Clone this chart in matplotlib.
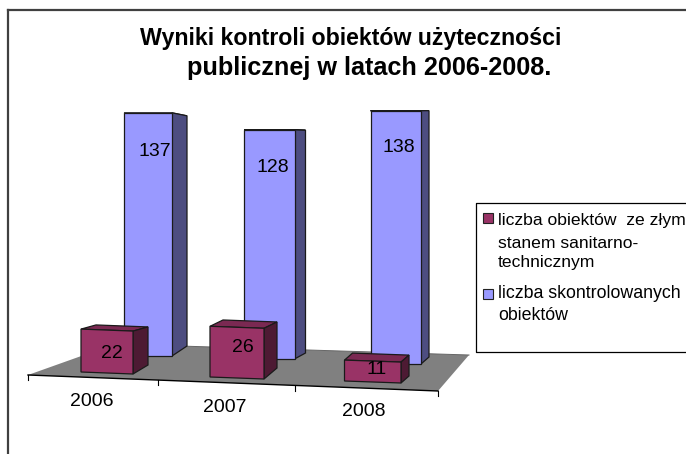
import matplotlib
matplotlib.use('Agg')
from matplotlib import pyplot as plt
from matplotlib.patches import Polygon, Rectangle

plt.rcParams['font.family'] = ['Liberation Sans', 'DejaVu Sans']

years = ['2006', '2007', '2008']
checked = [137, 128, 138]
bad_state = [22, 26, 11]
legend_bad = ['liczba obiektów  ze złym', 'stanem sanitarno-', 'technicznym']
legend_checked = ['liczba skontrolowanych', 'obiektów']
title_lines = ['Wyniki kontroli obiektów użyteczności', 'publicznej w latach 2006-2008.']

fig = plt.figure(figsize=(6.86, 4.54), dpi=100)
ax = fig.add_axes([0, 0, 1, 1])
ax.set_xlim(0, 686)
ax.set_ylim(454, 0)
ax.axis('off')


def box(val, fl, fr, depth, sc, sc_back, cols):
    # fake 3d bar, front face + side + top, heights come from val
    h = val * sc
    h2 = val * sc_back
    bl = (fl[0] + depth[0], fl[1] + depth[1])
    br = (fr[0] + depth[0], fr[1] + depth[1])
    top = [(fl[0], fl[1] - h), (fr[0], fr[1] - h), (br[0], br[1] - h2), (bl[0], bl[1] - h2)]
    side = [fr, br, (br[0], br[1] - h2), (fr[0], fr[1] - h)]
    front = [fl, fr, (fr[0], fr[1] - h), (fl[0], fl[1] - h)]
    for pts, c in zip([top, side, front], cols):
        ax.add_patch(Polygon(pts, closed=True, fc=c, ec='#1a1a1a', lw=0.9, zorder=3))


# frame
ax.plot([8, 8], [454, 10], color='#404040', lw=1.6, zorder=1)
ax.plot([8, 686], [10, 10], color='#404040', lw=1.6, zorder=1)

# floor
ax.add_patch(Polygon([(28, 375), (438, 391), (469, 355), (115, 344)], closed=True, fc='#808080', ec='none', zorder=1))
ax.plot([28, 438], [375, 391], color='black', lw=1, zorder=2)
ax.plot([115, 469], [344, 355], color='#666666', lw=0.7, zorder=2)
for tx, ty in [(28, 375), (157.5, 380), (295, 386), (438, 391)]:
    ax.plot([tx, tx], [ty, ty + 5], color='black', lw=0.8, zorder=2)

blue_cols = ['#7a7acc', '#4d4d80', '#9999ff']
red_cols = ['#7a2952', '#4d1a33', '#993366']

blue_geo = [
    ((124, 356), (172, 356), (15, -10), 1.775, 1.68),
    ((244, 359), (294.5, 359), (11, -6), 1.79, 1.74),
    ((370.5, 364), (421, 364), (8, -7), 1.835, 1.785),
]
red_geo = [
    ((81, 372), (133, 374), (15, -9), 1.95, 1.73),
    ((210, 377), (264, 379), (13, -11), 1.95, 1.77),
    ((344.5, 381), (401, 383), (8, -7), 1.9, 1.9),
]
for v, g in zip(checked, blue_geo):
    box(v, *g, blue_cols)
for v, g in zip(bad_state, red_geo):
    box(v, *g, red_cols)

# value labels
fs = 14
for v, (x, y) in zip(checked, [(155, 151), (273, 167), (399, 147)]):
    ax.text(x, y, str(v), fontsize=fs, ha='center', va='center', color='black', zorder=5)
for v, (x, y) in zip(bad_state, [(112, 353), (243, 348), (377, 369)]):
    ax.text(x, y, str(v), fontsize=fs, ha='center', va='center', color='black', zorder=5)
for lab, (x, y) in zip(years, [(92, 401), (225, 407), (364, 412)]):
    ax.text(x, y, lab, fontsize=fs, ha='center', va='center', color='black', zorder=5)

# title
ax.text(351, 39, title_lines[0], fontsize=16.7, fontweight='bold', ha='center', va='center')
ax.text(369.5, 68, title_lines[1], fontsize=18.2, fontweight='bold', ha='center', va='center')

# legend box
ax.plot([686, 476, 476, 686], [203, 203, 352, 352], color='black', lw=0.9)
ax.add_patch(Rectangle((483, 213), 10, 10, fc='#993366', ec='#222222', lw=0.8))
ax.add_patch(Rectangle((483, 289), 10, 10, fc='#9999ff', ec='#222222', lw=0.8))
for s, y in zip(legend_bad, [220, 243, 263]):
    ax.text(498, y, s, fontsize=12.6, ha='left', va='center')
for s, y in zip(legend_checked, [293, 316]):
    ax.text(498, y, s, fontsize=12.8, ha='left', va='center')

plt.savefig('out.png', dpi=100)
